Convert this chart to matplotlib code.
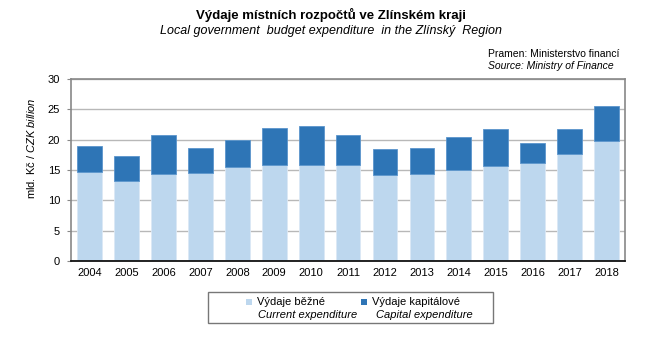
import numpy as np
import matplotlib.pyplot as plt
from matplotlib.patches import Rectangle

plt.rcParams['font.family'] = ['Liberation Sans', 'DejaVu Sans']
plt.rcParams['mathtext.fontset'] = 'custom'
plt.rcParams['mathtext.rm'] = 'Liberation Sans'
plt.rcParams['mathtext.it'] = 'Liberation Sans:italic'

# --- data (mld. Kč) ---
years = ['2004', '2005', '2006', '2007', '2008', '2009', '2010', '2011',
         '2012', '2013', '2014', '2015', '2016', '2017', '2018']
current = [14.7, 13.2, 14.3, 14.5, 15.5, 15.8, 15.8, 15.9,
           14.2, 14.3, 15.0, 15.7, 16.1, 17.6, 19.8]
capital = [4.2, 4.2, 6.4, 4.2, 4.4, 6.1, 6.4, 4.8,
           4.2, 4.4, 5.4, 6.0, 3.3, 4.1, 5.8]

c_light = '#bdd7ee'
c_dark = '#2e75b6'

W, H = 647, 345
fig = plt.figure(figsize=(W / 100, H / 100), dpi=100)
ax = fig.add_axes([0.110, 0.243, 0.856, 0.528])

x = np.arange(len(years))
ax.bar(x, current, width=0.67, color=c_light, edgecolor='#dbe8f5', linewidth=0.6, zorder=2)
ax.bar(x, capital, bottom=current, width=0.67, color=c_dark, edgecolor='#5b95cc',
       linewidth=0.6, zorder=2)

ax.set_xlim(-0.5, len(years) - 0.5)
ax.set_ylim(0, 30)
ax.set_yticks(range(0, 31, 5))
ax.set_xticks(x)
ax.set_xticklabels(years)
ax.tick_params(axis='both', labelsize=8, length=0, pad=5)
ax.tick_params(axis='y', length=3, direction='out', color='#888888')
ax.grid(axis='y', color='#b8b8b8', linewidth=1, zorder=0)
for s in ('left', 'top', 'right'):
    ax.spines[s].set_color('#888888')
    ax.spines[s].set_linewidth(1.2)
ax.spines['bottom'].set_color('#111111')
ax.spines['bottom'].set_linewidth(1.3)

# y label, placed like the original (above axis centre)
fig.text(31 / W, 1 - 148 / H, r'mld. Kč / $\it{CZK\ billion}$', rotation=90,
         ha='center', va='center', fontsize=8)

# titles
fig.text(0.512, 0.957, 'Výdaje místních rozpočtů ve Zlínském kraji',
         ha='center', va='center', fontsize=9.5, fontweight='bold')
fig.text(0.512, 0.910, 'Local government  budget expenditure  in the Zlínský  Region',
         ha='center', va='center', fontsize=9, style='italic')
fig.text(0.754, 0.843, 'Pramen: Ministerstvo financí', ha='left', va='center', fontsize=7.5)
fig.text(0.754, 0.809, 'Source: Ministry of Finance', ha='left', va='center',
         fontsize=7.5, style='italic')

# legend box drawn by hand (markers sit on the first line)
def fx(px):
    return px / W

def fy(py):
    return 1 - py / H

fig.patches.append(Rectangle((fx(208), fy(323)), fx(493) - fx(208), fy(292) - fy(323),
                             transform=fig.transFigure, facecolor='white',
                             edgecolor='#777777', linewidth=1))
legend_items = [
    (c_light, 249, 257, 258, 'Výdaje běžné', 'Current expenditure'),
    (c_dark, 364, 372, 376, 'Výdaje kapitálové', 'Capital expenditure'),
]
for col, mx, tx1, tx2, cz, en in legend_items:
    fig.patches.append(Rectangle((fx(mx - 3), fy(305)), fx(6), 6 / H,
                                 transform=fig.transFigure, facecolor=col,
                                 edgecolor='none'))
    fig.text(fx(tx1), fy(302), cz, ha='left', va='center', fontsize=8)
    fig.text(fx(tx2), fy(315), en, ha='left', va='center', fontsize=8, style='italic')

fig.savefig('out.png', dpi=100)
